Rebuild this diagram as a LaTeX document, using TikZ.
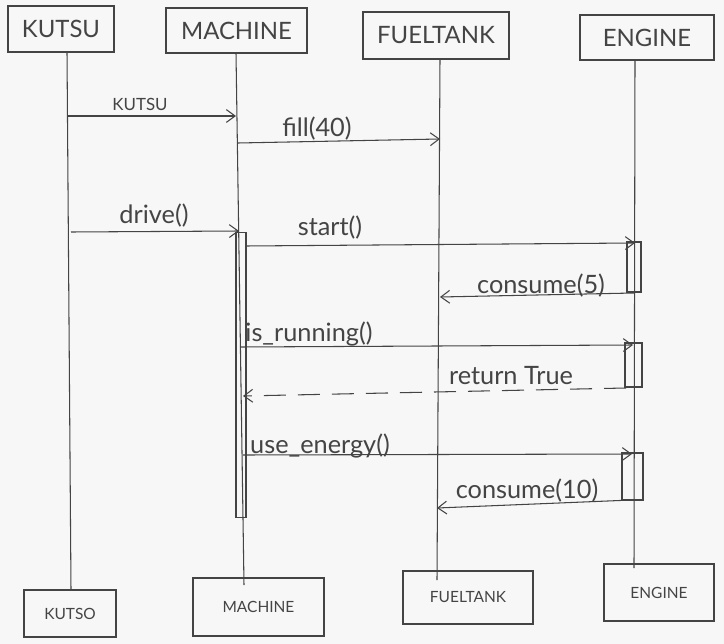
\documentclass[tikz,border=0pt]{standalone}
\usepackage{fontspec}
\setmainfont{Lato}
\usetikzlibrary{positioning,arrows.meta}
\definecolor{pen}{RGB}{68,68,68}
\definecolor{paper}{RGB}{247,247,247}
\tikzset{
	seq/.style={x=0.025cm,y=-0.025cm,line width=0.75pt,draw=pen,text=pen,
		>={Straight Barb[length=2.2mm,width=3.2mm]}},
	actor/.style={rectangle,draw,inner sep=0pt,font=\fontsize{17}{20}\selectfont},
	actor end/.style={rectangle,draw,inner sep=0pt,font=\fontsize{11}{13}\selectfont},
	activation/.style={rectangle,draw,inner sep=0pt},
	msg/.style={->},
	reply/.style={->,dash pattern=on 0.55cm off 0.3cm},
	msglabel/.style={inner sep=1pt,font=\fontsize{18}{20}\selectfont}
}

\begin{document}
\begin{tikzpicture}[seq]
	\fill[paper] (0,0) rectangle (724,644);
	
	% participants
	\node[actor,minimum width=2.65cm,minimum height=1.15cm] (kutsu) at (61,29) {KUTSU};
	\node[actor,minimum width=3.525cm,minimum height=1.125cm] (machine) at (236.5,30.5) {MACHINE};
	\node[actor,minimum width=3.65cm,minimum height=1.175cm] (fueltank) at (436,35.5) {FUELTANK};
	\node[actor,minimum width=3.35cm,minimum height=1.125cm] (engine) at (647,37.5) {ENGINE};
	
	\node[actor end,minimum width=2.3cm,minimum height=1.175cm] (kutsub) at (70,613.5) {KUTSO};
	\node[actor end,minimum width=3.275cm,minimum height=1.45cm] (machineb) at (258.5,607) {MACHINE};
	\node[actor end,minimum width=3.25cm,minimum height=1.325cm] (fueltankb) at (468,597.5) {FUELTANK};
	\node[actor end,minimum width=2.75cm,minimum height=1.425cm] (engineb) at (659,592.5) {ENGINE};
	
	% lifelines
	\coordinate (kl) at (67,52);   \coordinate (klb) at (71,590);
	\coordinate (ml) at (236,53);  \coordinate (mlb) at (244,585);
	\coordinate (fl) at (440,59);  \coordinate (flb) at (437,580);
	\coordinate (el) at (635,60);  \coordinate (elb) at (634,568);
	\path (kl) edge (klb);
	\path (ml) edge (mlb);
	\path (fl) edge (flb);
	\path (el) edge (elb);
	
	% activations
	\node[activation,minimum width=0.25cm,minimum height=7.1cm] (mact) at (241,375) {};
	\node[activation,minimum width=0.35cm,minimum height=1.25cm] (eact1) at (634,267) {};
	\node[activation,minimum width=0.425cm,minimum height=1.1cm] (eact2) at (633.5,365) {};
	\node[activation,minimum width=0.525cm,minimum height=1.175cm] (eact3) at (632.5,476.5) {};
	
	% messages
	\coordinate (kutsu1) at (67,116);   \coordinate (machine1) at (236,116);
	\coordinate (machine2) at (238,143); \coordinate (fuel2) at (440,139);
	\coordinate (kutsu3) at (71,232);   \coordinate (machine3) at (239,231);
	\coordinate (machine4) at (246,246); \coordinate (engine4) at (635,243);
	\coordinate (engine5) at (634,293); \coordinate (fuel5) at (440,297);
	\coordinate (machine6) at (240,347); \coordinate (engine6) at (633,345);
	\coordinate (engine7) at (626,388); \coordinate (machine7) at (243,396);
	\coordinate (machine8) at (243,455); \coordinate (engine8) at (632,454);
	\coordinate (engine9) at (632,500); \coordinate (fuel9) at (437,508);
	
	\path[msg] (kutsu1) edge (machine1);
	\path[msg] (machine2) edge (fuel2);
	\path[msg] (kutsu3) edge (machine3);
	\path[msg] (machine4) edge (engine4);
	\path[msg] (engine5) edge (fuel5);
	\path[msg] (machine6) edge (engine6);
	\path[reply] (engine7) edge (machine7);
	\path[msg] (machine8) edge (engine8);
	\path[msg] (engine9) edge (fuel9);
	
	% labels
	\node[msglabel,font=\fontsize{12}{14}\selectfont] (l1) at (140,104) {KUTSU};
	\node[msglabel] (l2) at (317,129) {fill(40)};
	\node[msglabel] (l3) at (154,216) {drive()};
	\node[msglabel] (l4) at (330,228) {start()};
	\node[msglabel] (l5) at (541,286) {consume(5)};
	\node[msglabel] (l6) at (309,334) {is\_running()};
	\node[msglabel] (l7) at (511,376) {return True};
	\node[msglabel] (l8) at (320,446) {use\_energy()};
	\node[msglabel] (l9) at (527,491) {consume(10)};
\end{tikzpicture}
\end{document}
